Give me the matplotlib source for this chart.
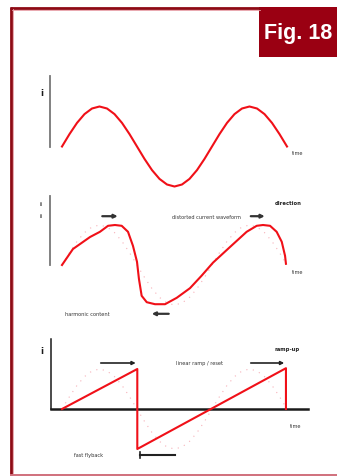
import matplotlib
matplotlib.use("Agg")
import matplotlib.pyplot as plt
import numpy as np

# ---------------- data (time in periods, amplitude in units) ----------------
t_sine = [0.00, 0.05, 0.10, 0.15, 0.20, 0.25, 0.30, 0.35, 0.40, 0.45, 0.50,
          0.55, 0.60, 0.65, 0.70, 0.75, 0.80, 0.85, 0.90, 0.95, 1.00,
          1.05, 1.10, 1.15, 1.20, 1.25, 1.30, 1.35, 1.40, 1.45, 1.50]
v_sine = [0.00, 0.31, 0.59, 0.81, 0.95, 1.00, 0.95, 0.81, 0.59, 0.31, 0.00,
          -0.31, -0.59, -0.81, -0.95, -1.00, -0.95, -0.81, -0.59, -0.31, 0.00,
          0.31, 0.59, 0.81, 0.95, 1.00, 0.95, 0.81, 0.59, 0.31, 0.00]

t_dist = [0.00, 0.073, 0.187, 0.253, 0.307, 0.353, 0.398, 0.44, 0.473, 0.50,
          0.513, 0.531, 0.565, 0.62, 0.687, 0.765, 0.853, 0.93, 1.007, 1.12, 1.231,
          1.298, 1.34, 1.387, 1.431, 1.465, 1.487, 1.493]
v_dist = [0.00, 0.40, 0.70, 0.83, 0.98, 1.00, 0.98, 0.83, 0.48, 0.08,
          -0.35, -0.77, -0.93, -0.98, -0.98, -0.82, -0.58, -0.27, 0.06, 0.45, 0.83,
          0.98, 1.00, 0.98, 0.83, 0.58, 0.23, 0.03]

t_saw = [0.00, 0.502, 0.502, 1.493, 1.493]
v_saw = [0.00, 1.00, -1.00, 1.02, 0.00]

fig_label = "Fig. 18"

# ---------------- figure ----------------
W, H = 337, 477
fig = plt.figure(figsize=(W / 100, H / 100), dpi=100)
fig.patch.set_facecolor("white")

RED = "#f01018"
PALE = "#f6b0b8"
DARK = "#1a1a1a"
GREY = "#777777"
FRAME = "#8e0a14"

# background / frame axes in pixel units
bg = fig.add_axes([0, 0, 1, 1])
bg.set_xlim(0, W)
bg.set_ylim(H, 0)
bg.axis("off")
bg.plot([11, 11], [8, 476], color=FRAME, lw=2.0, solid_capstyle="butt")
bg.plot([10, 260], [8.5, 8.5], color=FRAME, lw=2.0, solid_capstyle="butt")
bg.plot([12.5, 12.5], [10, 474], color="#e59aa2", lw=0.6)
bg.plot([12, 260], [10.5, 10.5], color="#e59aa2", lw=0.6)
bg.plot([10, W], [475.5, 475.5], color="#d0707c", lw=1.4, solid_capstyle="butt")
bg.add_patch(plt.Rectangle((259, 8), W - 259, 50, color="#9a0012", lw=0))
bg.text(298, 34, fig_label, color="white", ha="center", va="center",
        fontsize=15.5, fontweight="bold", family=["Liberation Sans", "DejaVu Sans"])

X0, X1 = 40, 320          # pixel span of panels
TX0, PX = 62, 150         # pixel of t=0, pixels per period
AMP = 40                  # pixels per unit amplitude


def panel(base, ytop, ybot):
    ax = fig.add_axes([X0 / W, 1 - ybot / H, (X1 - X0) / W, (ybot - ytop) / H])
    ax.set_xlim((X0 - TX0) / PX, (X1 - TX0) / PX)
    ax.set_ylim((base - ybot) / AMP, (base - ytop) / AMP)
    ax.axis("off")
    return ax


small = dict(fontsize=3.6, color="#333333")

# ---- panel 1: sine ----
ax1 = panel(147.5, 60, 200)
ax1.plot([-0.08, -0.08], [0.0, 1.76], color=GREY, lw=1.3)
ax1.plot(t_sine, v_sine, color=RED, lw=1.5)
ax1.text(-0.135, 1.35, "i", fontsize=6, fontweight="bold", color=DARK,
         ha="center", va="center")
ax1.text(1.57, -0.15, "time", ha="center", va="center", **small)

# ---- panel 2: distorted ----
ax2 = panel(266, 185, 325)
ax2.plot([-0.08, -0.08], [0.0, 1.72], color=GREY, lw=1.3)
ax2.plot(t_sine, v_sine, color=PALE, lw=0.8, ls=(0, (1, 5)))
ax2.plot(t_dist, v_dist, color=RED, lw=1.5)
ax2.text(-0.14, 1.55, "i", fontsize=4, fontweight="bold", color=DARK, ha="center", va="center")
ax2.text(-0.14, 1.25, "i", fontsize=4, fontweight="bold", color=DARK, ha="center", va="center")
ax2.annotate("", xy=(0.39, 1.22), xytext=(0.25, 1.22),
             arrowprops=dict(arrowstyle="-|>", color="#333333", lw=1.6,
                             mutation_scale=5))
ax2.annotate("", xy=(1.37, 1.22), xytext=(1.24, 1.22),
             arrowprops=dict(arrowstyle="-|>", color="#333333", lw=1.6,
                             mutation_scale=5))
ax2.annotate("", xy=(0.58, -1.22), xytext=(0.73, -1.22),
             arrowprops=dict(arrowstyle="-|>", color="#333333", lw=1.6,
                             mutation_scale=5))
ax2.text(0.96, 1.22, "distorted current waveform", ha="center", va="center", **small)
ax2.text(1.51, 1.57, "direction", ha="center", va="center", fontsize=3.8,
         fontweight="bold", color="#222222")
ax2.text(0.17, -1.22, "harmonic content", ha="center", va="center", **small)
ax2.text(1.57, -0.17, "time", ha="center", va="center", **small)

# ---- panel 3: sawtooth ----
ax3 = panel(410, 330, 470)
ax3.plot([-0.073, -0.073], [0.0, 1.75], color=DARK, lw=1.1)
ax3.plot([-0.073, 1.64], [0, 0], color=DARK, lw=1.8)
ax3.plot(t_sine, v_sine, color=PALE, lw=0.8, ls=(0, (1, 5)))
ax3.plot(t_saw, v_saw, color=RED, lw=1.5)
ax3.text(-0.135, 1.45, "i", fontsize=6, fontweight="bold", color=DARK,
         ha="center", va="center")
ax3.annotate("", xy=(0.51, 1.15), xytext=(0.24, 1.15),
             arrowprops=dict(arrowstyle="-|>", color="#222222", lw=1.2,
                             mutation_scale=5))
ax3.annotate("", xy=(1.50, 1.15), xytext=(1.24, 1.15),
             arrowprops=dict(arrowstyle="-|>", color="#222222", lw=1.2,
                             mutation_scale=5))
ax3.plot([0.52, 0.75], [-1.15, -1.15], color="#222222", lw=1.5)
ax3.plot([0.52, 0.52], [-1.08, -1.22], color="#222222", lw=1.2)
ax3.text(0.92, 1.17, "linear ramp / reset", ha="center", va="center", **small)
ax3.text(1.50, 1.50, "ramp-up", ha="center", va="center", fontsize=3.8,
         fontweight="bold", color="#222222")
ax3.text(0.18, -1.15, "fast flyback", ha="center", va="center", **small)
ax3.text(1.56, -0.42, "time", ha="center", va="center", **small)

fig.savefig("out.png", dpi=100, facecolor="white")
